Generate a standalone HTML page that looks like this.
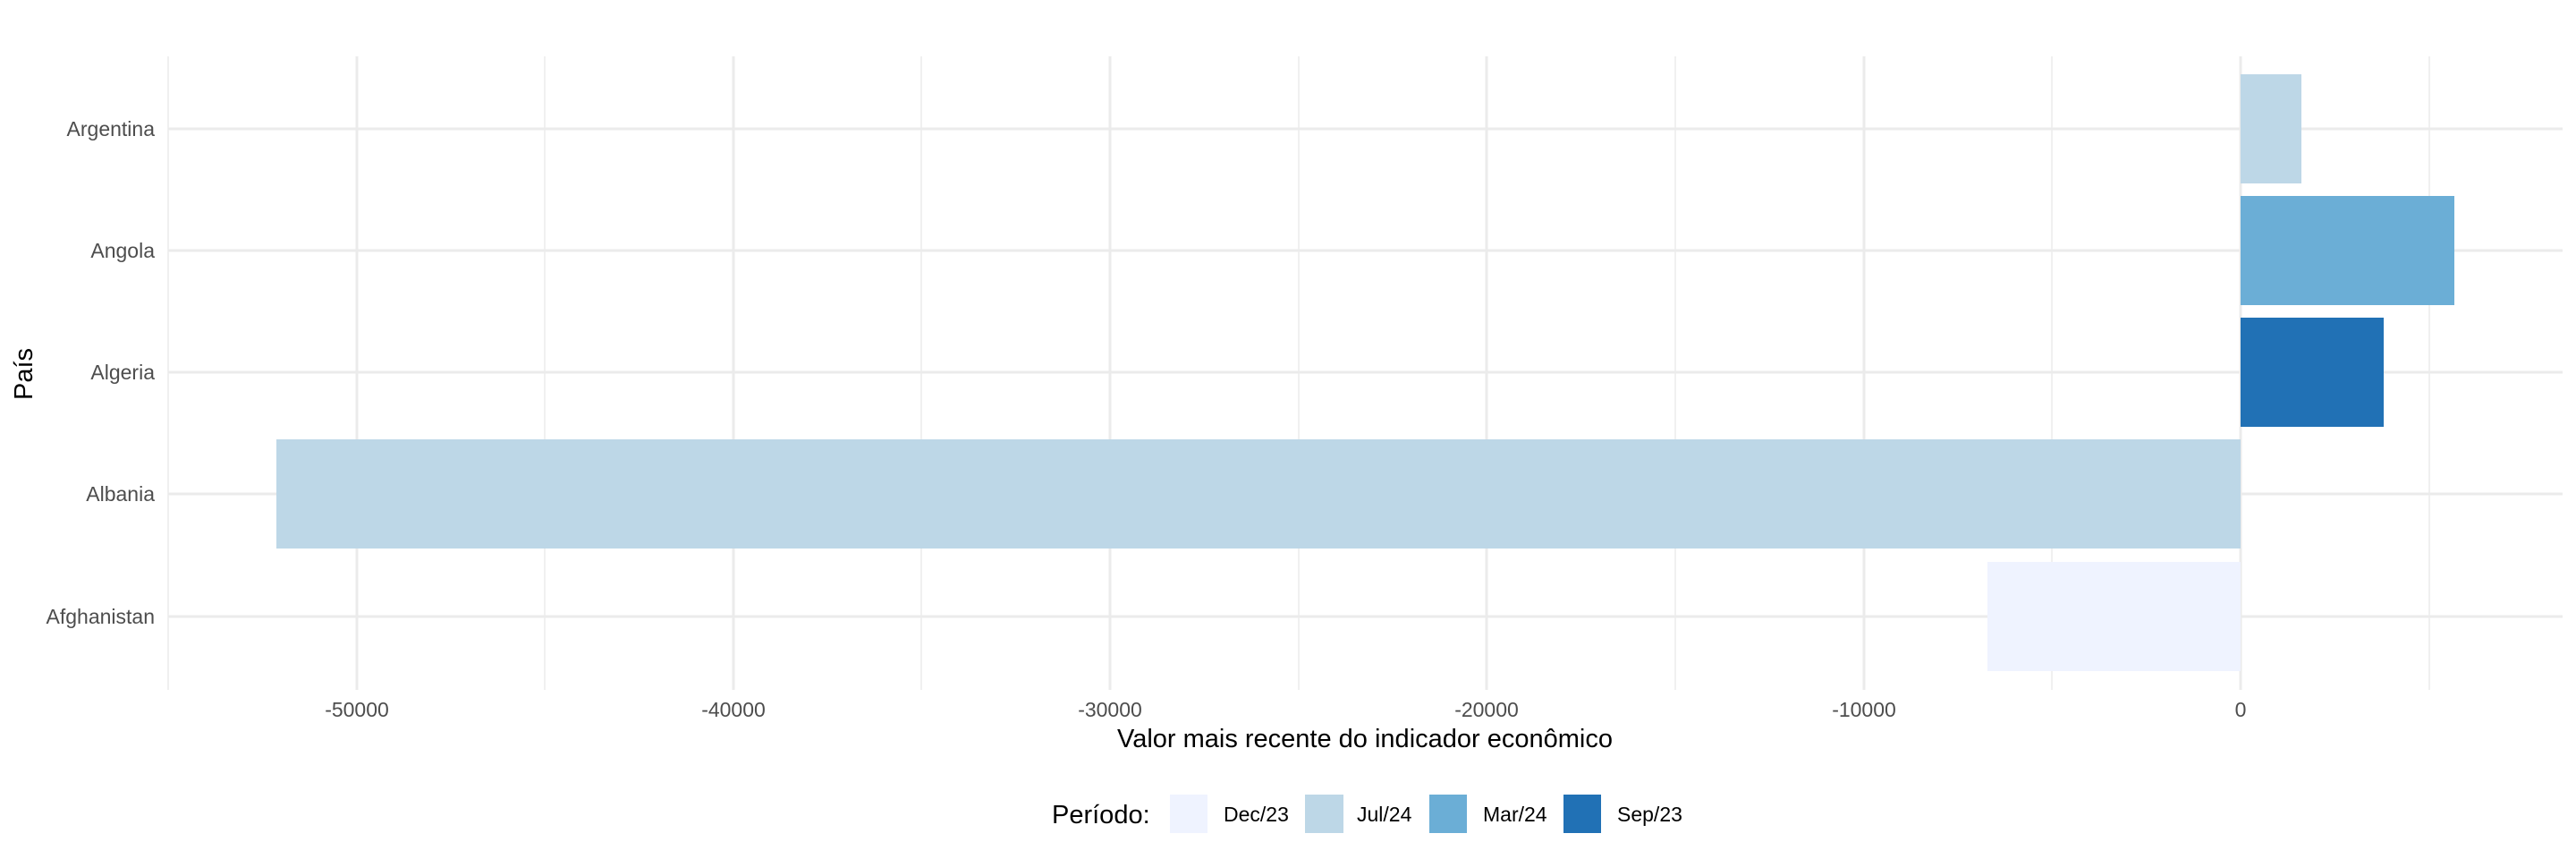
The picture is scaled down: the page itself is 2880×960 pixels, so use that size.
<!DOCTYPE html>
<html><head><meta charset="utf-8"><style>html,body{margin:0;padding:0;background:#fff}svg{display:block}</style></head>
<body>
<svg width="2880" height="960" viewBox="0 0 2880 960" xmlns="http://www.w3.org/2000/svg" font-family="Liberation Sans, Arial, sans-serif">
<rect width="2880" height="960" fill="#fff"/>
<g stroke="#ebebeb" stroke-width="1.5">
<line x1="188" y1="63" x2="188" y2="771"/>
<line x1="609" y1="63" x2="609" y2="771"/>
<line x1="1030" y1="63" x2="1030" y2="771"/>
<line x1="1452" y1="63" x2="1452" y2="771"/>
<line x1="1873" y1="63" x2="1873" y2="771"/>
<line x1="2294" y1="63" x2="2294" y2="771"/>
<line x1="2716" y1="63" x2="2716" y2="771"/>
</g>
<g stroke="#ebebeb" stroke-width="3">
<line x1="399" y1="63" x2="399" y2="771"/>
<line x1="820" y1="63" x2="820" y2="771"/>
<line x1="1241" y1="63" x2="1241" y2="771"/>
<line x1="1662" y1="63" x2="1662" y2="771"/>
<line x1="2084" y1="63" x2="2084" y2="771"/>
<line x1="2505" y1="63" x2="2505" y2="771"/>
<line x1="188" y1="144" x2="2865" y2="144"/>
<line x1="188" y1="280" x2="2865" y2="280"/>
<line x1="188" y1="416" x2="2865" y2="416"/>
<line x1="188" y1="552" x2="2865" y2="552"/>
<line x1="188" y1="689" x2="2865" y2="689"/>
</g>
<rect x="2505" y="83" width="68" height="122" fill="#bdd7e7"/>
<rect x="2505" y="219" width="239" height="122" fill="#6baed6"/>
<rect x="2505" y="355" width="160" height="122" fill="#2171b5"/>
<rect x="309" y="491" width="2196" height="122" fill="#bdd7e7"/>
<rect x="2222" y="628" width="283" height="122" fill="#eff3ff"/>
<g fill="#4d4d4d" font-size="23" text-anchor="end">
<text x="173" y="152">Argentina</text>
<text x="173" y="288">Angola</text>
<text x="173" y="424">Algeria</text>
<text x="173" y="560">Albania</text>
<text x="173" y="697">Afghanistan</text>
</g>
<g fill="#4d4d4d" font-size="23" text-anchor="middle">
<text x="399" y="801">-50000</text>
<text x="820" y="801">-40000</text>
<text x="1241" y="801">-30000</text>
<text x="1662" y="801">-20000</text>
<text x="2084" y="801">-10000</text>
<text x="2505" y="801">0</text>
</g>
<text x="1526" y="835" font-size="29" text-anchor="middle" fill="#000">Valor mais recente do indicador econômico</text>
<text transform="translate(36,418) rotate(-90)" font-size="29" text-anchor="middle" fill="#000">País</text>
<text x="1176" y="920" font-size="29" fill="#000">Período:</text>
<rect x="1308" y="888" width="42" height="43" fill="#eff3ff"/>
<rect x="1459" y="888" width="43" height="43" fill="#bdd7e7"/>
<rect x="1598" y="888" width="42" height="43" fill="#6baed6"/>
<rect x="1748" y="888" width="42" height="43" fill="#2171b5"/>
<g font-size="23" fill="#000">
<text x="1368" y="918">Dec/23</text>
<text x="1517" y="918">Jul/24</text>
<text x="1658" y="918">Mar/24</text>
<text x="1808" y="918">Sep/23</text>
</g>
</svg>
</body></html>
